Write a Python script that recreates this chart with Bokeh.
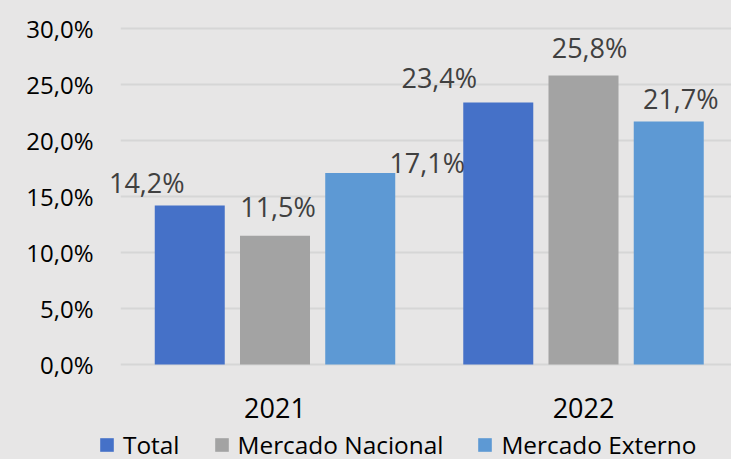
from bokeh.plotting import figure
from bokeh.models import (Range1d, ColumnDataSource, FixedTicker, CustomJSTickFormatter,
                          LabelSet, Legend, LegendItem, BoxAnnotation, GlobalInlineStyleSheet)
from bokeh.core.properties import value
from bokeh.embed import file_html
from bokeh.resources import INLINE

# ---- data ----
years = ["2021", "2022"]
series = ["Total", "Mercado Nacional", "Mercado Externo"]
total = [14.2, 23.4]
nacional = [11.5, 25.8]
externo = [17.1, 21.7]
y_ticks = [0, 5, 10, 15, 20, 25, 30]

# ---- styling / label nudges (screen pixels) ----
colors = ["#4571c8", "#a3a3a3", "#5d99d4"]
offsets = [-0.2763, 0.0, 0.2763]
bar_width = 0.2269
label_dx = [[-43, -59], [3, 6], [67, 12]]
label_dy = [[12, 14], [19, 18], [0, 13]]
BG = "#e7e6e6"
FONT = "Open Sans"

year_pos = list(range(len(years)))

p = figure(width=731, height=459,
           x_range=Range1d(-0.5721, 1.4797),
           y_range=Range1d(-8.48, 30.54),
           output_backend="svg", toolbar_location=None,
           min_border_left=98, min_border_right=0, min_border_top=22, min_border_bottom=0)
p.background_fill_color = BG
p.border_fill_color = BG
p.outline_line_color = None
p.styles = {"background-color": BG}
p.stylesheets = [GlobalInlineStyleSheet(css="html, body { background: %s; }" % BG)]

p.xgrid.visible = False
p.ygrid.grid_line_color = "#d6d6d6"
p.ygrid.grid_line_width = 2
p.yaxis.ticker = FixedTicker(ticks=y_ticks)
p.yaxis.formatter = CustomJSTickFormatter(code="return tick.toFixed(1).replace('.', ',') + '%';")
p.yaxis.axis_line_color = None
p.yaxis.major_tick_line_color = None
p.yaxis.minor_tick_line_color = None
p.yaxis.major_label_standoff = -1
p.yaxis.major_label_text_font = FONT
p.yaxis.major_label_text_font_size = "24px"
p.yaxis.major_label_text_color = "#000000"

p.xaxis.visible = False

# strip left of the plot area where the reference has no gridlines
p.add_layout(BoxAnnotation(right=-0.5, fill_color=BG, fill_alpha=1,
                           line_color=None, line_alpha=0, level="underlay"))

# category labels under the groups
ysrc = ColumnDataSource(dict(x=year_pos, y=[0] * len(years), t=years))
p.add_layout(LabelSet(x="x", y="y", text="t", source=ysrc, y_offset=-53,
                      text_align="center", text_baseline="alphabetic",
                      text_font=value(FONT), text_font_size=value("27px"),
                      text_color="#000000"))

values = [total, nacional, externo]
items = []
for i, (name, vals) in enumerate(zip(series, values)):
    src = ColumnDataSource(dict(
        x=[yp + offsets[i] for yp in year_pos], val=vals,
        label=[("%.1f" % v).replace(".", ",") + "%" for v in vals],
        dx=label_dx[i], dy=label_dy[i]))
    r = p.vbar(x="x", top="val", width=bar_width,
               source=src, fill_color=colors[i], line_color=None)
    items.append(LegendItem(label=name, renderers=[r]))
    p.add_layout(LabelSet(x="x", y="val", text="label",
                          x_offset="dx", y_offset="dy", source=src,
                          text_align="center", text_baseline="alphabetic",
                          text_font=value(FONT), text_font_size=value("27px"),
                          text_color="#404040"))

legend = Legend(items=items, orientation="horizontal", location=(0, -2),
                padding=0, margin=0, spacing=33, label_standoff=8,
                glyph_width=17, glyph_height=17,
                label_text_font=FONT, label_text_font_size="24.4px", label_text_color="#000000",
                border_line_color=None, background_fill_alpha=0)
p.add_layout(legend, "center")

open("out.html", "w").write(file_html(p, INLINE))
